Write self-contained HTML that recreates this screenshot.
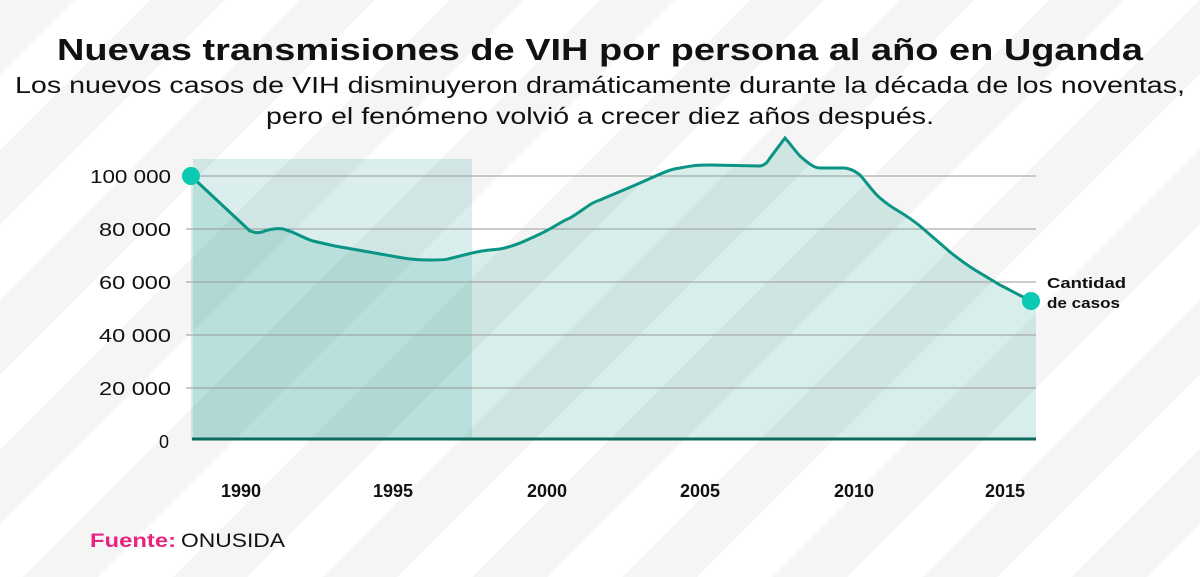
<!DOCTYPE html>
<html><head><meta charset="utf-8"><style>
body{margin:0;width:1200px;height:577px;overflow:hidden;font-family:"Liberation Sans",sans-serif;
background:repeating-linear-gradient(135deg,#f5f5f5 0,#f5f5f5 53px,#fff 53px,#fff 106px);}
</style></head><body>
<svg width="1200" height="577" style="position:absolute;left:0;top:0" font-family="Liberation Sans, sans-serif">
<text x="57" y="60" textLength="1086" lengthAdjust="spacingAndGlyphs" font-size="31" font-weight="bold" fill="#111">Nuevas transmisiones de VIH por persona al año en Uganda</text>
<text x="15" y="93" textLength="1170" lengthAdjust="spacingAndGlyphs" font-size="23" fill="#111">Los nuevos casos de VIH disminuyeron dramáticamente durante la década de los noventas,</text>
<text x="266" y="124" textLength="668" lengthAdjust="spacingAndGlyphs" font-size="23" fill="#111">pero el fenómeno volvió a crecer diez años después.</text>
<rect x="193" y="159" width="279" height="280" fill="#0a9484" opacity="0.15"/>
<path d="M191,176 L250,231 C256,233 258,233 262,232 C270,229 276,228 283,229 C295,232 303,238 313,241 L335,246 L403,258 C415,260 425,260 430,260 C440,260 445,260 448,259 L472,253 C485,250 492,250 500,249 C515,246 525,241 540,234 C555,227 560,222 570,218 C585,209 590,203 600,200 L640,183 C660,174 670,169 680,168 C695,165 700,165 710,165 L760,166 C766,165 768,161 770,158 L785,138 C792,146 796,152 800,156 C810,165 815,168 820,168 L845,168 C852,169 856,172 860,175 C868,184 873,192 880,198 C888,205 893,208 900,212 C910,218 915,222 920,226 L950,252 C960,260 967,265 975,270 L1000,285 L1031,301 L1036,301 L1036,439 L191,439 Z" fill="#0a9484" opacity="0.16"/>
<g stroke="#999" stroke-width="1">
<line x1="186" y1="176" x2="1036" y2="176"/><line x1="186" y1="229" x2="1036" y2="229"/><line x1="186" y1="282" x2="1036" y2="282"/><line x1="186" y1="335" x2="1036" y2="335"/><line x1="186" y1="388" x2="1036" y2="388"/>
</g>
<path d="M191,176 L250,231 C256,233 258,233 262,232 C270,229 276,228 283,229 C295,232 303,238 313,241 L335,246 L403,258 C415,260 425,260 430,260 C440,260 445,260 448,259 L472,253 C485,250 492,250 500,249 C515,246 525,241 540,234 C555,227 560,222 570,218 C585,209 590,203 600,200 L640,183 C660,174 670,169 680,168 C695,165 700,165 710,165 L760,166 C766,165 768,161 770,158 L785,138 C792,146 796,152 800,156 C810,165 815,168 820,168 L845,168 C852,169 856,172 860,175 C868,184 873,192 880,198 C888,205 893,208 900,212 C910,218 915,222 920,226 L950,252 C960,260 967,265 975,270 L1000,285 L1031,301" fill="none" stroke="#0a9484" stroke-width="3"/>
<line x1="192" y1="439" x2="1036" y2="439" stroke="#0b6b5f" stroke-width="3"/>
<circle cx="191" cy="176" r="9" fill="#0cc9b3"/>
<circle cx="1031" cy="301" r="9" fill="#0cc9b3"/>
<g font-size="18" fill="#111">
<text x="90" y="183" textLength="81" lengthAdjust="spacingAndGlyphs">100 000</text>
<text x="99" y="236" textLength="72" lengthAdjust="spacingAndGlyphs">80 000</text>
<text x="99" y="289" textLength="72" lengthAdjust="spacingAndGlyphs">60 000</text>
<text x="99" y="342" textLength="72" lengthAdjust="spacingAndGlyphs">40 000</text>
<text x="99" y="395" textLength="72" lengthAdjust="spacingAndGlyphs">20 000</text>
<text x="159" y="448">0</text>
</g>
<g font-size="18" font-weight="bold" fill="#111" text-anchor="middle">
<text x="241" y="497">1990</text><text x="393" y="497">1995</text><text x="547" y="497">2000</text><text x="700" y="497">2005</text><text x="854" y="497">2010</text><text x="1005" y="497">2015</text>
</g>
<text x="1047" y="288" font-size="15" font-weight="bold" fill="#111" textLength="79" lengthAdjust="spacingAndGlyphs">Cantidad</text>
<text x="1047" y="308" font-size="15" font-weight="bold" fill="#111" textLength="73" lengthAdjust="spacingAndGlyphs">de casos</text>
<text x="90" y="547" font-size="19" font-weight="bold" fill="#e8247e" textLength="86" lengthAdjust="spacingAndGlyphs">Fuente:</text>
<text x="181" y="547" font-size="19" fill="#111" textLength="104" lengthAdjust="spacingAndGlyphs">ONUSIDA</text>
</svg>
</body></html>
